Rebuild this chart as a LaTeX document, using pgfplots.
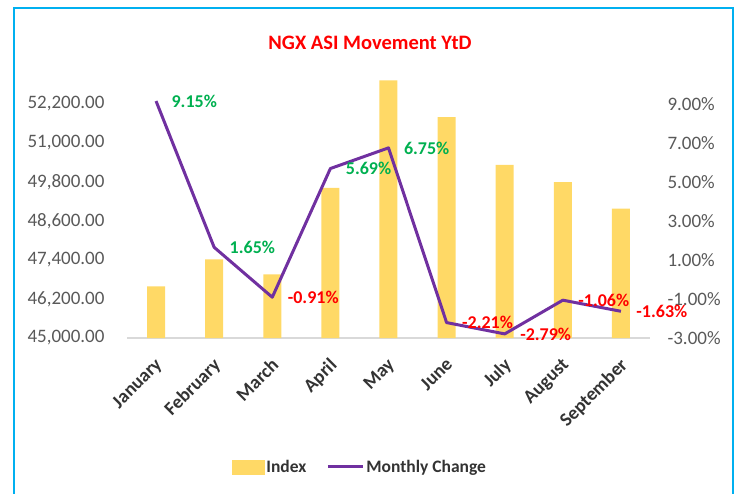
\documentclass[border=0pt]{standalone}
\usepackage{pgfplots}
\usepackage{pgfplotstable}
\pgfplotsset{compat=1.18}
\usepackage{fontspec}
\setmainfont{Carlito}
\definecolor{barc}{HTML}{FFD966}
\definecolor{linec}{HTML}{7030A0}
\definecolor{posc}{HTML}{00B050}
\definecolor{negc}{HTML}{FF0000}
\definecolor{tickc}{HTML}{595959}
\definecolor{bordc}{HTML}{00B0F0}
\pgfplotstableread{
x idx chg
0 46590 9.15
1 47420 1.65
2 46960 -0.91
3 49620 5.69
4 52930 6.75
5 51800 -2.21
6 50330 -2.79
7 49800 -1.06
8 48980 -1.63
}\data
\begin{document}
\begin{tikzpicture}
\path[use as bounding box] (0pt,0pt) rectangle (739pt,493pt);
\draw[bordc, line width=2pt] (14pt,-10pt) rectangle (733pt,485pt);
\node[font=\fontsize{20.5}{24}\selectfont\bfseries, text=negc] at (370pt,450pt) {NGX ASI Movement YtD};
\begin{axis}[
  at={(127pt,155pt)}, anchor=south west, scale only axis,
  width=523pt, height=273pt,
  xmin=-0.5, xmax=8.5, ymin=45000, ymax=53400,
  axis x line*=bottom, axis y line*=left,
  x axis line style={draw=black!15, line width=1.5pt},
  y axis line style={draw=none},
  tick style={draw=none},
  scaled y ticks=false,
  xtick={0,...,8},
  xticklabels={January,February,March,April,May,June,July,August,September},
  xticklabel style={xshift=-2pt, yshift=-14pt, rotate=45, anchor=north east, font=\fontsize{19}{22}\selectfont\bfseries, text=black!80},
  ytick={45000,46200,47400,48600,49800,51000,52200},
  yticklabel style={font=\fontsize{19}{22}\selectfont, text=tickc, xshift=-19pt},
  /pgf/number format/assume math mode=true,
  /pgf/number format/.cd, fixed, fixed zerofill, precision=2, 1000 sep={,},
]
\addplot[ybar, bar width=18pt, fill=barc, draw=none] table[x=x, y=idx]{\data};
\end{axis}
\begin{axis}[
  at={(127pt,155pt)}, anchor=south west, scale only axis,
  width=523pt, height=273pt,
  xmin=-0.5, xmax=8.5, ymin=-3, ymax=11,
  axis x line=none, axis y line*=right,
  y axis line style={draw=none},
  tick style={draw=none},
  ytick={-3,-1,1,3,5,7,9},
  yticklabel={\pgfmathprintnumber[fixed,fixed zerofill,precision=2,assume math mode=true]{\tick}\%},
  yticklabel style={font=\fontsize{19}{22}\selectfont, text=tickc, xshift=14pt},
  legend columns=2,
  legend style={draw=none, fill=none, at={(0.4455,-0.4725)}, anchor=center,
    font=\fontsize{17.5}{20}\selectfont\bfseries, text=black!80,
    /tikz/every even column/.append style={column sep=18pt}},
]
\addlegendimage{legend image code/.code={\fill[barc] (0pt,-7pt) rectangle (32pt,7pt);}}
\addlegendentry{Index}
\addplot[linec, line width=3pt, line join=round,
  legend image code/.code={\draw[linec, line width=3pt] (0pt,0pt) -- (35pt,0pt);}]
  table[x=x, y=chg]{\data};
\addlegendentry{Monthly Change}
\addplot[draw=none, forget plot, restrict y to domain=0:20, point meta=y,
  nodes near coords={\pgfmathprintnumber[fixed,fixed zerofill,precision=2,assume math mode=true]{\pgfplotspointmeta}\%},
  nodes near coords align={anchor=west},
  every node near coord/.append style={text=posc, font=\fontsize{18}{20}\selectfont\bfseries, anchor=west, xshift=12pt}]
  table[x=x, y=chg]{\data};
\addplot[draw=none, forget plot, restrict y to domain=-20:0, point meta=y,
  nodes near coords={\pgfmathprintnumber[fixed,fixed zerofill,precision=2,assume math mode=true]{\pgfplotspointmeta}\%},
  nodes near coords align={anchor=west},
  every node near coord/.append style={text=negc, font=\fontsize{18}{20}\selectfont\bfseries, anchor=west, xshift=12pt}]
  table[x=x, y=chg]{\data};
\end{axis}
\end{tikzpicture}
\end{document}
